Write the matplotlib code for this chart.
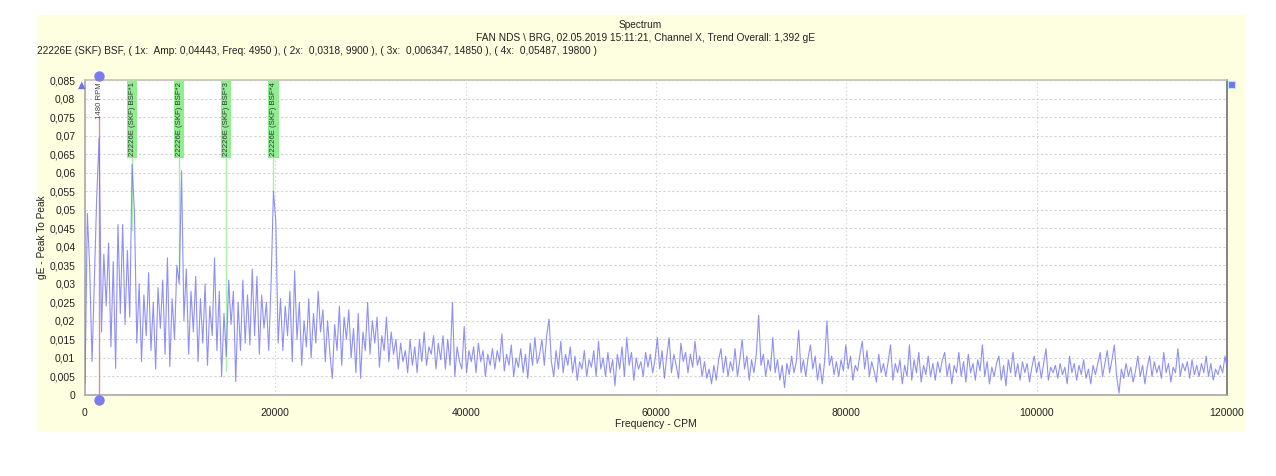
import numpy as np
import matplotlib
matplotlib.use("Agg")
import matplotlib.pyplot as plt
from matplotlib.patches import Rectangle

plt.rcParams['font.family'] = ['Liberation Sans', 'DejaVu Sans']

# ---------------- data ----------------
title1 = "Spectrum"
title2 = "FAN NDS \\ BRG, 02.05.2019 15:11:21, Channel X, Trend Overall: 1,392 gE"
title3 = ("22226E (SKF) BSF, ( 1x:  Amp: 0,04443, Freq: 4950 ), ( 2x:  0,0318, 9900 ), "
          "( 3x:  0,006347, 14850 ), ( 4x:  0,05487, 19800 )")
xlabel = "Frequency - CPM"
ylabel = "gE - Peak To Peak"

line_res = 247.5  # CPM per spectral line

seg00 = [0.003,0.049,0.034,0.009,0.031,0.054,0.0694,0.017,0.038,0.024,0.041,0.013,0.036,0.0072,0.046,0.022,0.046,0.019,0.039,0.021]
seg01 = [0.0623,0.049,0.014,0.03,0.009,0.027,0.016,0.033,0.012,0.025,0.007,0.029,0.018,0.031,0.011,0.037,0.0077,0.026,0.015,0.035]
seg02 = [0.03,0.0605,0.02,0.034,0.011,0.028,0.017,0.032,0.009,0.026,0.014,0.03,0.008,0.024,0.016,0.037,0.012,0.028,0.005,0.022]
seg03 = [0.0104,0.031,0.019,0.028,0.0036,0.025,0.012,0.031,0.014,0.027,0.0135,0.034,0.016,0.032,0.011,0.027,0.018,0.025,0.012,0.03]
seg04 = [0.055,0.047,0.014,0.026,0.012,0.024,0.016,0.028,0.009,0.0335,0.015,0.025,0.008,0.02,0.013,0.026,0.01,0.022,0.014,0.028]
seg05 = [0.017,0.023,0.009,0.02,0.011,0.0045,0.019,0.012,0.024,0.008,0.021,0.015,0.023,0.01,0.018,0.006,0.022,0.0045,0.017,0.012]
seg06 = [0.025,0.011,0.02,0.014,0.021,0.0075,0.016,0.012,0.021,0.009,0.017,0.011,0.015,0.007,0.014,0.009,0.012,0.006,0.015,0.008]
seg07 = [0.013,0.006,0.015,0.009,0.017,0.008,0.013,0.011,0.016,0.007,0.014,0.0095,0.016,0.007,0.015,0.008,0.025,0.005,0.013,0.009]
seg08 = [0.007,0.0185,0.006,0.012,0.009,0.013,0.006,0.014,0.009,0.012,0.005,0.011,0.008,0.0125,0.007,0.012,0.009,0.0165,0.0065,0.011]
seg09 = [0.008,0.0135,0.005,0.01,0.0075,0.0125,0.006,0.011,0.0045,0.014,0.008,0.0155,0.0085,0.011,0.015,0.008,0.016,0.0205,0.009,0.005]
seg10 = [0.012,0.007,0.0145,0.006,0.011,0.008,0.013,0.006,0.0105,0.004,0.009,0.007,0.012,0.005,0.0095,0.0075,0.012,0.005,0.0145,0.007]
seg11 = [0.01,0.005,0.0115,0.006,0.0095,0.0025,0.011,0.007,0.013,0.005,0.0155,0.008,0.0115,0.004,0.01,0.007,0.009,0.005,0.0115,0.0075]
seg12 = [0.011,0.006,0.0095,0.0155,0.007,0.012,0.0045,0.0105,0.0155,0.006,0.011,0.008,0.0045,0.014,0.009,0.0115,0.006,0.011,0.0075,0.0145]
seg13 = [0.008,0.0105,0.005,0.009,0.0045,0.007,0.003,0.008,0.004,0.0095,0.0125,0.006,0.0105,0.005,0.009,0.0065,0.0125,0.005,0.0095,0.015]
seg14 = [0.007,0.0105,0.004,0.0095,0.006,0.011,0.0215,0.008,0.011,0.005,0.0095,0.0065,0.0155,0.006,0.0095,0.004,0.008,0.002,0.0085,0.0055]
seg15 = [0.0105,0.006,0.009,0.0175,0.006,0.0095,0.005,0.01,0.0135,0.007,0.0105,0.004,0.0085,0.003,0.009,0.02,0.008,0.0105,0.0055,0.009]
seg16 = [0.005,0.0095,0.0065,0.0135,0.007,0.0105,0.004,0.008,0.0065,0.011,0.0145,0.007,0.012,0.005,0.009,0.0065,0.0035,0.011,0.006,0.0085]
seg17 = [0.005,0.009,0.0135,0.004,0.0085,0.006,0.0095,0.003,0.008,0.005,0.0135,0.004,0.0095,0.006,0.0115,0.0035,0.008,0.0055,0.0105,0.005]
seg18 = [0.0085,0.004,0.009,0.006,0.0095,0.0115,0.005,0.0085,0.003,0.008,0.006,0.0115,0.005,0.009,0.0035,0.011,0.006,0.0085,0.004,0.0095]
seg19 = [0.0065,0.0135,0.005,0.009,0.003,0.0075,0.005,0.0085,0.0105,0.004,0.008,0.0025,0.0095,0.006,0.0115,0.005,0.0085,0.004,0.009,0.006]
seg20 = [0.0085,0.0035,0.0075,0.0105,0.006,0.009,0.0045,0.0085,0.0125,0.004,0.0075,0.006,0.008,0.0045,0.0085,0.0055,0.0075,0.003,0.0105,0.006]
seg21 = [0.0085,0.004,0.008,0.0055,0.0095,0.0045,0.007,0.003,0.008,0.0055,0.0085,0.0115,0.005,0.0085,0.012,0.006,0.0095,0.0135,0.005,0.0005]
seg22 = [0.007,0.0045,0.0085,0.005,0.0075,0.0035,0.0065,0.0105,0.005,0.008,0.003,0.0075,0.0105,0.005,0.009,0.006,0.008,0.0045,0.0115,0.006]
seg23 = [0.0085,0.0035,0.0075,0.006,0.0125,0.005,0.0085,0.0065,0.009,0.0045,0.0095,0.0055,0.008,0.005,0.0085,0.006,0.0105,0.005,0.0085,0.004]
seg24 = [0.007,0.0055,0.008,0.006,0.0105,0.007]

rpm_freq = 1480
rpm_label = "1480 RPM"
bsf_freq = [4950, 9900, 14850, 19800]
bsf_amp = [0.04443, 0.0318, 0.006347, 0.05487]
bsf_labels = ["22226E (SKF) BSF*1", "22226E (SKF) BSF*2", "22226E (SKF) BSF*3", "22226E (SKF) BSF*4"]

x_ticks = [0, 20000, 40000, 60000, 80000, 100000, 120000]
y_ticks = [0, 0.005, 0.01, 0.015, 0.02, 0.025, 0.03, 0.035, 0.04, 0.045, 0.05,
           0.055, 0.06, 0.065, 0.07, 0.075, 0.08, 0.085]

amp = np.array(seg00 + seg01 + seg02 + seg03 + seg04 + seg05 + seg06 + seg07 + seg08 +
               seg09 + seg10 + seg11 + seg12 + seg13 + seg14 + seg15 + seg16 + seg17 +
               seg18 + seg19 + seg20 + seg21 + seg22 + seg23 + seg24)
freq = np.arange(len(amp)) * line_res

# ---------------- figure ----------------
W, H = 1276, 476
fig = plt.figure(figsize=(W / 100, H / 100), dpi=100, facecolor='white')

# yellow panel
fig.add_artist(Rectangle((37 / W, 1 - 432 / H), (1245 - 37) / W, (432 - 15) / H,
                         transform=fig.transFigure, facecolor='#fefee0',
                         edgecolor='none', zorder=0))

L, R, T, B = 85, 1227, 80, 395
ax = fig.add_axes([L / W, 1 - B / H, (R - L) / W, (B - T) / H])
ax.set_facecolor('white')
ax.set_zorder(1)

ax.plot(freq, amp, color='#7373f7', lw=0.8, alpha=0.8, zorder=3)

ax.set_xlim(0, 120000)
ax.set_ylim(0, 0.085)
ax.set_xticks(x_ticks)
ax.set_xticklabels([str(v) for v in x_ticks])
ax.set_yticks(y_ticks)


def fmt(v):
    s = f"{v:.3f}".rstrip('0').rstrip('.')
    return s.replace('.', ',')


ax.set_yticklabels([fmt(v) for v in y_ticks])
ax.tick_params(axis='both', length=0, labelsize=7.5, colors='#222222')
ax.tick_params(axis='y', pad=7)
ax.tick_params(axis='x', pad=9)

ax.grid(True, axis='y', color='#d2d2d2', linestyle=(0, (2, 2)), lw=0.8, zorder=0)
ax.grid(True, axis='x', color='#d8d8d8', linestyle=(0, (1.5, 2)), lw=0.8, zorder=0)
ax.set_axisbelow(True)

for s in ['left', 'bottom']:
    ax.spines[s].set_color('#a8a8a8')
    ax.spines[s].set_linewidth(1.2)
ax.spines['top'].set_color('#c8c2ae')
ax.spines['top'].set_linewidth(1.2)
ax.spines['right'].set_color('#707070')
ax.spines['right'].set_linewidth(1.2)

# RPM marker
ax.plot([rpm_freq, rpm_freq], [0, 0.0745], color='#d49494', lw=1.0, zorder=2)
ax.text(rpm_freq, 0.0843, rpm_label, rotation=90, ha='center', va='top',
        fontsize=5.6, color='#444444', zorder=4)
ax.plot([rpm_freq], [0.0862], 'o', color='#7b7bf0', ms=6.5, clip_on=False, zorder=6)
ax.plot([rpm_freq], [-0.0014], 'o', color='#7b7bf0', ms=6.5, clip_on=False, zorder=6)

# BSF markers
for f, a, lab in zip(bsf_freq, bsf_amp, bsf_labels):
    ax.plot([f, f], [a, 0.08], color='#a8f0a8', lw=1.0, zorder=2)
    ax.text(f, 0.0844, lab, rotation=90, ha='center', va='top', fontsize=5.6,
            color='#333333', zorder=5,
            bbox=dict(facecolor='#90ee90', edgecolor='none', pad=1.2))

# corner markers
fig.text(82 / W, 1 - 85 / H, '\u25B2', color='#6f6fef', fontsize=7,
         ha='center', va='center', family='DejaVu Sans')
fig.add_artist(Rectangle((1228 / W, 1 - 88 / H), 7 / W, 7 / H, transform=fig.transFigure,
                         facecolor='#7474ee', edgecolor='#aaeeee', lw=0.8, zorder=5))

# titles and labels
fig.text(640 / W, 1 - 25 / H, title1, ha='center', va='center', fontsize=7.3, color='#222222')
fig.text(646 / W, 1 - 38 / H, title2, ha='center', va='center', fontsize=7.3, color='#222222')
fig.text(37 / W, 1 - 51 / H, title3, ha='left', va='center', fontsize=7.3, color='#222222')
fig.text(656 / W, 1 - 424 / H, xlabel, ha='center', va='center', fontsize=7.5, color='#222222')
fig.text(42 / W, 1 - 237 / H, ylabel, ha='center', va='center', rotation=90,
         fontsize=7.3, color='#222222')

fig.savefig('out.png', dpi=100, facecolor='white')
